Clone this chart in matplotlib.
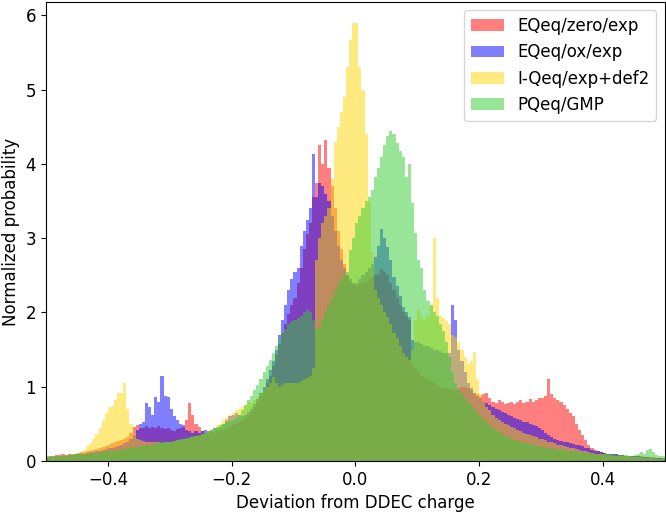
import matplotlib
matplotlib.use("Agg")
import matplotlib.pyplot as plt
import numpy as np

# Histogrammwerte (Dichte) je Bin, Binbreite 0.005 von -0.5 bis 0.5
edges = np.linspace(-0.5, 0.5, 201)

eqeq_zero = [
    0.05, 0.06, 0.07, 0.08, 0.08, 0.09, 0.08, 0.10, 0.09, 0.10, 0.11, 0.12, 0.12, 0.13, 0.14, 0.15, 0.16, 0.18, 0.19, 0.20,
    0.22, 0.24, 0.25, 0.27, 0.28, 0.30, 0.32, 0.38, 0.46, 0.48, 0.44, 0.45, 0.47, 0.45, 0.46, 0.44, 0.47, 0.45, 0.43, 0.44,
    0.42, 0.40, 0.43, 0.44, 0.46, 0.55, 0.78, 0.62, 0.50, 0.46, 0.40, 0.38, 0.37, 0.39, 0.38, 0.40, 0.42, 0.41, 0.44, 0.46,
    0.48, 0.50, 0.52, 0.55, 0.58, 0.62, 0.66, 0.72, 0.80, 0.88, 0.95, 1.05, 1.15, 1.28, 1.42, 1.58, 1.72, 1.85, 1.98, 2.10,
    2.20, 2.40, 2.60, 2.85, 3.05, 3.20, 3.55, 3.74, 4.25, 4.00, 4.32, 3.95, 3.70, 3.40, 3.10, 2.85, 2.65, 2.50, 2.40, 2.38,
    2.35, 2.38, 2.40, 2.42, 2.45, 2.48, 2.50, 2.52, 2.58, 2.55, 2.50, 2.40, 2.30, 2.20, 2.10, 2.00, 1.95, 1.90, 1.30, 1.25,
    1.20, 1.15, 1.12, 1.10, 1.08, 1.05, 1.02, 1.00, 0.98, 0.98, 0.97, 0.96, 0.96, 0.98, 1.00, 1.00, 0.98, 0.95, 0.92, 0.90,
    0.88, 0.90, 0.92, 0.85, 0.80, 0.78, 0.82, 0.80, 0.76, 0.78, 0.80, 0.77, 0.80, 0.82, 0.78, 0.80, 0.83, 0.80, 0.82, 0.85,
    0.85, 0.88, 1.10, 0.90, 0.85, 0.82, 0.80, 0.75, 0.70, 0.65, 0.60, 0.50, 0.42, 0.35, 0.28, 0.22, 0.18, 0.15, 0.13, 0.12,
    0.11, 0.10, 0.10, 0.09, 0.09, 0.08, 0.08, 0.07, 0.07, 0.07, 0.06, 0.06, 0.06, 0.05, 0.05, 0.05, 0.05, 0.04, 0.04, 0.04,
]

eqeq_ox = [
    0.04, 0.05, 0.05, 0.06, 0.06, 0.07, 0.07, 0.08, 0.08, 0.09, 0.09, 0.10, 0.10, 0.11, 0.12, 0.12, 0.13, 0.14, 0.15, 0.16,
    0.17, 0.18, 0.19, 0.20, 0.22, 0.24, 0.26, 0.30, 0.35, 0.42, 0.50, 0.52, 0.78, 0.72, 0.62, 0.86, 0.80, 1.14, 0.88, 0.86,
    0.70, 0.60, 0.55, 0.50, 0.48, 0.42, 0.40, 0.38, 0.40, 0.38, 0.40, 0.42, 0.40, 0.42, 0.44, 0.45, 0.46, 0.50, 0.55, 0.60,
    0.62, 0.65, 0.62, 0.60, 0.62, 0.66, 0.70, 0.76, 0.84, 0.92, 1.00, 1.10, 1.22, 1.35, 1.50, 1.70, 1.90, 2.10, 2.30, 2.45,
    2.55, 2.60, 2.90, 3.10, 3.24, 3.40, 4.14, 3.55, 3.74, 3.70, 3.60, 3.50, 3.30, 3.10, 2.90, 2.70, 2.60, 2.50, 2.45, 2.40,
    2.40, 2.45, 2.50, 2.55, 2.60, 2.65, 2.75, 2.90, 3.13, 3.00, 2.88, 2.70, 2.48, 2.35, 2.22, 2.07, 2.00, 1.94, 1.63, 1.60,
    1.60, 1.58, 1.55, 1.55, 1.52, 1.50, 1.50, 1.48, 1.45, 1.45, 1.45, 2.10, 1.90, 1.50, 1.35, 1.20, 1.05, 0.98, 0.92, 0.88,
    0.85, 0.80, 0.78, 0.75, 0.72, 0.70, 0.68, 0.66, 0.64, 0.62, 0.60, 0.58, 0.57, 0.55, 0.53, 0.52, 0.50, 0.49, 0.47, 0.45,
    0.42, 0.38, 0.35, 0.32, 0.30, 0.28, 0.27, 0.26, 0.25, 0.24, 0.23, 0.22, 0.21, 0.20, 0.18, 0.17, 0.15, 0.14, 0.13, 0.12,
    0.11, 0.10, 0.10, 0.09, 0.09, 0.08, 0.08, 0.07, 0.07, 0.06, 0.06, 0.06, 0.05, 0.05, 0.05, 0.04, 0.04, 0.04, 0.04, 0.03,
]

iqeq = [
    0.04, 0.05, 0.05, 0.06, 0.06, 0.07, 0.08, 0.08, 0.09, 0.10, 0.11, 0.12, 0.15, 0.20, 0.24, 0.30, 0.36, 0.45, 0.55, 0.65,
    0.72, 0.74, 0.82, 0.91, 0.92, 1.05, 0.70, 0.50, 0.36, 0.30, 0.28, 0.27, 0.26, 0.25, 0.25, 0.26, 0.25, 0.24, 0.25, 0.26,
    0.26, 0.27, 0.28, 0.28, 0.30, 0.30, 0.31, 0.32, 0.33, 0.34, 0.36, 0.38, 0.40, 0.42, 0.45, 0.48, 0.50, 0.55, 0.58, 0.62,
    0.65, 0.68, 0.70, 0.72, 0.75, 0.80, 0.78, 0.82, 0.86, 0.90, 0.95, 1.00, 1.05, 1.13, 1.05, 1.00, 1.02, 1.05, 1.05, 1.05,
    1.05, 1.05, 1.08, 1.10, 1.12, 1.15, 1.25, 2.70, 3.00, 3.20, 3.30, 3.40, 3.80, 4.30, 4.50, 4.70, 4.90, 5.30, 5.67, 5.90,
    5.90, 5.30, 5.00, 4.40, 3.50, 2.80, 2.30, 2.20, 2.10, 2.00, 1.94, 1.85, 1.72, 1.65, 1.55, 1.45, 1.40, 1.36, 1.50, 1.90,
    2.03, 1.95, 1.90, 1.95, 2.10, 3.00, 2.20, 1.95, 1.92, 1.88, 1.85, 1.70, 1.67, 1.60, 1.50, 1.40, 1.30, 1.35, 1.47, 1.10,
    0.90, 0.80, 0.72, 0.68, 0.62, 0.58, 0.55, 0.52, 0.50, 0.48, 0.46, 0.44, 0.42, 0.40, 0.38, 0.36, 0.35, 0.33, 0.32, 0.30,
    0.29, 0.28, 0.26, 0.25, 0.24, 0.22, 0.21, 0.20, 0.19, 0.18, 0.17, 0.16, 0.15, 0.14, 0.13, 0.12, 0.11, 0.10, 0.10, 0.09,
    0.09, 0.08, 0.08, 0.07, 0.07, 0.07, 0.06, 0.06, 0.06, 0.05, 0.05, 0.05, 0.05, 0.04, 0.04, 0.04, 0.04, 0.03, 0.03, 0.03,
]

pqeq = [
    0.06, 0.06, 0.06, 0.07, 0.07, 0.07, 0.08, 0.08, 0.08, 0.09, 0.09, 0.09, 0.10, 0.10, 0.10, 0.11, 0.11, 0.12, 0.12, 0.13,
    0.13, 0.14, 0.14, 0.15, 0.15, 0.16, 0.17, 0.17, 0.18, 0.19, 0.20, 0.20, 0.21, 0.22, 0.22, 0.23, 0.24, 0.25, 0.25, 0.26,
    0.26, 0.27, 0.28, 0.29, 0.30, 0.31, 0.32, 0.33, 0.34, 0.35, 0.36, 0.38, 0.40, 0.42, 0.44, 0.46, 0.48, 0.50, 0.52, 0.54,
    0.55, 0.58, 0.62, 0.68, 0.75, 0.82, 0.88, 0.95, 1.02, 1.10, 1.20, 1.28, 1.36, 1.45, 1.55, 1.64, 1.72, 1.78, 1.84, 1.88,
    1.90, 1.92, 1.95, 2.00, 2.03, 2.00, 1.90, 1.76, 1.80, 1.90, 2.00, 2.10, 2.20, 2.30, 2.40, 2.45, 2.50, 2.55, 2.84, 3.00,
    3.20, 3.30, 3.40, 3.50, 3.55, 3.65, 3.82, 3.95, 4.10, 4.25, 4.37, 4.45, 4.40, 4.28, 4.18, 4.10, 3.82, 4.00, 3.47, 3.07,
    2.70, 2.60, 2.30, 2.15, 2.10, 2.00, 1.95, 1.85, 1.75, 1.60, 1.40, 1.20, 1.05, 0.95, 0.90, 0.85, 0.80, 0.75, 0.70, 0.65,
    0.60, 0.56, 0.52, 0.48, 0.45, 0.42, 0.39, 0.36, 0.34, 0.32, 0.30, 0.28, 0.27, 0.26, 0.25, 0.24, 0.23, 0.22, 0.21, 0.20,
    0.19, 0.18, 0.18, 0.17, 0.16, 0.16, 0.15, 0.15, 0.14, 0.14, 0.13, 0.13, 0.12, 0.12, 0.11, 0.11, 0.11, 0.10, 0.10, 0.10,
    0.10, 0.09, 0.09, 0.09, 0.08, 0.08, 0.08, 0.08, 0.07, 0.07, 0.08, 0.10, 0.12, 0.10, 0.15, 0.16, 0.12, 0.08, 0.07, 0.06,
]

labels = ["EQeq/zero/exp", "EQeq/ox/exp", "I-Qeq/exp+def2", "PQeq/GMP"]
colors = ["red", "blue", "gold", "limegreen"]

plt.rcParams["font.size"] = 12

fig = plt.figure(figsize=(6.66, 5.15), dpi=100)
ax = fig.add_axes([0.069, 0.105, 0.929, 0.891])

for vals, lab, col in zip([eqeq_zero, eqeq_ox, iqeq, pqeq], labels, colors):
    ax.hist(edges[:-1], bins=edges, weights=vals, histtype="stepfilled",
            alpha=0.5, color=col, label=lab)

ax.set_xlim(-0.5, 0.5)
ax.set_ylim(0, 6.18)
ax.set_xticks([-0.4, -0.2, 0.0, 0.2, 0.4])
ax.set_xlabel("Deviation from DDEC charge")
ax.set_ylabel("Normalized probability")
ax.legend(loc="upper right")

fig.savefig("out.png", dpi=100)
